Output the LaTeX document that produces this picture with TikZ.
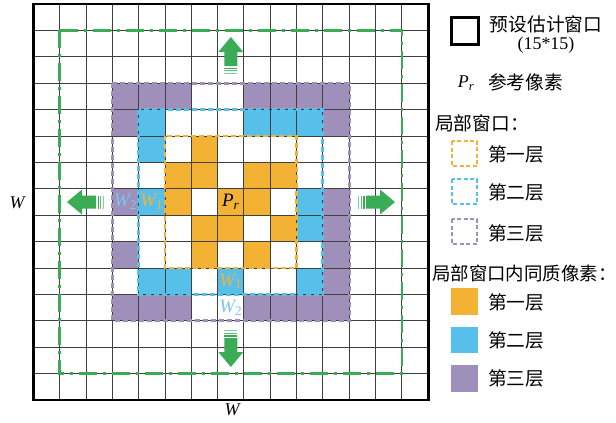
\documentclass[tikz,border=0pt]{standalone}
\usepackage{fontspec}
\setmainfont{Liberation Serif}
\newfontfamily\cjk{Noto Sans CJK SC}
\definecolor{cor}{RGB}{244,178,52}
\definecolor{cbl}{RGB}{86,192,235}
\definecolor{cpu}{RGB}{158,144,186}
\definecolor{cgr}{RGB}{58,172,86}
\definecolor{cwt}{RGB}{120,200,240}
\newcommand\greenarrow[3]{%
  \begin{scope}[shift={(#1,#2)},rotate=#3]
    \fill[cgr] (0,-19) -- (12.5,-4) -- (6.5,-4) -- (6.5,10) -- (-6.5,10) -- (-6.5,-4) -- (-12.5,-4) -- cycle;
    \fill[cgr] (-6.5,11.5) rectangle (6.5,12.8);
    \fill[cgr!80] (-6.5,14.2) rectangle (6.5,15.4);
    \fill[cgr!60] (-6.5,16.8) rectangle (6.5,18);
  \end{scope}}
\begin{document}
\begin{tikzpicture}[x=1bp,y=-1bp,
  gridline/.style={draw=black!75,line width=0.9bp},
  winline/.style={line width=2.9bp,dash pattern=on 5bp off 3bp},
  lab/.style={inner sep=0pt,font=\fontsize{19}{20}\selectfont\itshape},
  cjklab/.style={inner sep=0pt,anchor=west,font=\cjk\fontsize{18.8}{20}\selectfont},
  legbox/.style={line width=2bp,dash pattern=on 4bp off 2.5bp},
]
\useasboundingbox (0,0) rectangle (616,422);
\begin{scope}[shift={(33.3,4)},x=26.33bp,y=-26.4bp]
  % homogeneous pixels
  \foreach \c/\r in {3/3,4/3,5/3,8/3,9/3,10/3,11/3,3/4,11/4,3/7,11/7,11/8,3/9,11/9,11/10,3/11,4/11,5/11,8/11,9/11,10/11,11/11}
    \fill[cpu] (\c,\r) rectangle ++(1,1);
  \foreach \c/\r in {4/4,8/4,9/4,10/4,4/5,4/7,10/7,10/8,4/10,5/10,7/10,10/10}
    \fill[cbl] (\c,\r) rectangle ++(1,1);
  \foreach \c/\r in {6/5,5/6,6/6,8/6,9/6,5/7,7/7,8/7,6/8,7/8,9/8,6/9,8/9}
    \fill[cor] (\c,\r) rectangle ++(1,1);
  % grid
  \foreach \i in {1,...,14} {
    \draw[gridline] (\i,0) -- (\i,15);
    \draw[gridline] (0,\i) -- (15,\i);
  }
  \draw[line width=2.8bp] (0,0) rectangle (15,15);
  % local windows
  \draw[winline,cpu] (3,3) rectangle (12,12);
  \draw[winline,cbl] (4,4) rectangle (11,11);
  \draw[winline,cor] (5,5) rectangle (10,10);
  \draw[cgr,line width=2.6bp,dash pattern=on 18bp off 6bp on 3bp off 6bp] (1,1) rectangle (14,14);
  % labels
  \node[lab] (pr) at (7.5,7.5) {P\textsubscript{r}};
  \node[lab,text=cor] (wa) at (4.5,7.5) {W\textsubscript{\upshape 1}};
  \node[lab,text=cwt] (wb) at (3.5,7.5) {W\textsubscript{\upshape 2}};
  \node[lab,text=cor] (wc) at (7.5,10.5) {W\textsubscript{\upshape 1}};
  \node[lab,text=cwt] (wd) at (7.5,11.5) {W\textsubscript{\upshape 2}};
\end{scope}
% arrows
\greenarrow{230.8}{56}{0}
\greenarrow{230.8}{348}{180}
\greenarrow{86}{202}{90}
\greenarrow{376}{202}{-90}
% side labels
\node[lab,font=\fontsize{18}{20}\selectfont\itshape] (wl) at (17,203) {W};
\node[lab,font=\fontsize{18}{20}\selectfont\itshape] (wbot) at (232,410) {W};
% legend
\draw[line width=3bp] (451,17) rectangle (478,44);
\node[cjklab,anchor=center] (t1) at (546,24) {预设估计窗口};
\node[inner sep=0pt,font=\fontsize{18}{20}\selectfont] (t2) at (546,45) {(15*15)};
\node[lab,font=\fontsize{18}{20}\selectfont\itshape] (prl) at (466,83) {P\textsubscript{r}};
\node[cjklab] (t3) at (488,82) {参考像素};
\node[cjklab] (t4) at (435,123) {局部窗口：};
\draw[legbox,cor] (452,141) rectangle (477,166);
\node[cjklab] (t5) at (488,154) {第一层};
\draw[legbox,cbl] (452,179) rectangle (477,204);
\node[cjklab] (t6) at (488,192) {第二层};
\draw[legbox,cpu] (452,219) rectangle (477,244);
\node[cjklab] (t7) at (488,233) {第三层};
\node[cjklab,font=\cjk\fontsize{18.5}{20}\selectfont] (t8) at (432,273) {局部窗口内同质像素：};
\fill[cor] (451,288) rectangle (478,315);
\node[cjklab] (t9) at (488,302) {第一层};
\fill[cbl] (451,327) rectangle (478,353);
\node[cjklab] (t10) at (488,340) {第二层};
\fill[cpu] (451,365) rectangle (478,392);
\node[cjklab] (t11) at (488,378) {第三层};
\end{tikzpicture}
\end{document}
